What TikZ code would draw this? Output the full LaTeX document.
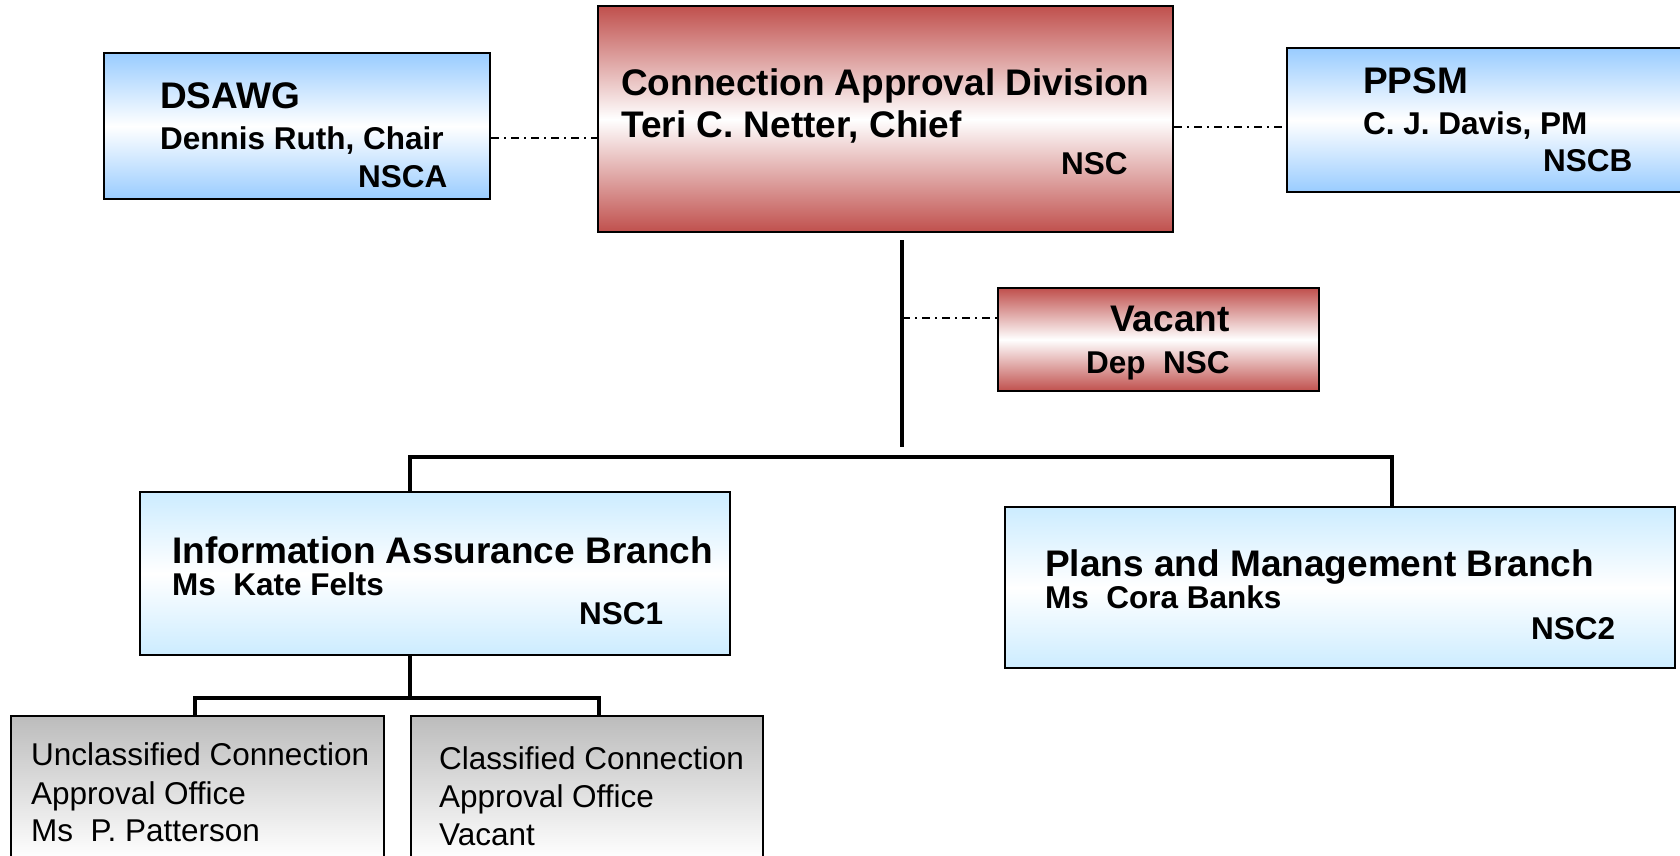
\documentclass[tikz,border=0pt]{standalone}
\usepackage{fontspec}
\setmainfont{Liberation Sans}
\definecolor{cred}{RGB}{192,80,77}
\definecolor{cblue}{RGB}{153,204,255}
\definecolor{clblue}{RGB}{204,236,255}
\definecolor{cgray}{RGB}{188,188,188}
\tikzset{
  box/.style={draw=black, line width=2.2pt, inner sep=0pt, anchor=north west},
  redbox/.style={box, top color=cred, bottom color=cred, middle color=white},
  bluebox/.style={box, top color=cblue, bottom color=cblue, middle color=white},
  lbluebox/.style={box, top color=clblue, bottom color=clblue, middle color=white},
  graybox/.style={box, top color=cgray, bottom color=cgray, middle color=white},
  big/.style={anchor=base west, inner sep=0pt, font=\fontsize{37}{40}\selectfont\bfseries},
  small/.style={anchor=base west, inner sep=0pt, font=\fontsize{31.5}{36}\selectfont\bfseries},
  plain/.style={anchor=base west, inner sep=0pt, font=\fontsize{31.5}{36}\selectfont},
  conn/.style={line width=3.2pt, line join=miter},
  dd/.style={line width=1.7pt, dash pattern=on 8pt off 5pt on 2pt off 5pt},
}
\begin{document}
\begin{tikzpicture}[x=1pt,y=-1pt]
\useasboundingbox (0,0) rectangle (1680,855);
\clip (0,0) rectangle (1680,855);
\fill[white] (0,0) rectangle (1680,855);

% boxes
\node[redbox, minimum width=575pt, minimum height=226pt] (cad) at (597,5) {};
\node[bluebox, minimum width=386pt, minimum height=146pt] (dsawg) at (103,52) {};
\node[bluebox, minimum width=420pt, minimum height=144pt] (ppsm) at (1286,47) {};
\node[redbox, minimum width=321pt, minimum height=103pt] (vac) at (997,287) {};
\node[lbluebox, minimum width=590pt, minimum height=163pt] (ia) at (139,491) {};
\node[lbluebox, minimum width=670pt, minimum height=161pt] (pmb) at (1004,506) {};
\node[graybox, minimum width=373pt, minimum height=285pt] (uca) at (10,715) {};
\node[graybox, minimum width=352pt, minimum height=285pt] (cca) at (410,715) {};

% texts
\node[big] (cad1) at (621,95) {Connection Approval Division};
\node[big] (cad2) at (621,137) {Teri C. Netter, Chief};
\node[small] (cad3) at (1061,174) {NSC};

\node[big] (ds1) at (160,108) {DSAWG};
\node[small] (ds2) at (160,149) {Dennis Ruth, Chair};
\node[small] (ds3) at (358,187) {NSCA};

\node[big] (pp1) at (1363,93) {PPSM};
\node[small] (pp2) at (1363,134) {C. J. Davis, PM};
\node[small] (pp3) at (1543,171) {NSCB};

\node[big] (va1) at (1110,331) {Vacant};
\node[small] (va2) at (1086,373) {Dep\ \ NSC};

\node[big] (ia1) at (172,563) {Information Assurance Branch};
\node[small] (ia2) at (172,595) {Ms\ \ Kate Felts};
\node[small] (ia3) at (579,624) {NSC1};

\node[big] (pm1) at (1045,576) {Plans and Management Branch};
\node[small] (pm2) at (1045,608) {Ms\ \ Cora Banks};
\node[small] (pm3) at (1531,639) {NSC2};

\node[plain] (uc1) at (31,765) {Unclassified Connection};
\node[plain] (uc2) at (31,804) {Approval Office};
\node[plain] (uc3) at (31,841) {Ms\ \ P. Patterson};

\node[plain] (cc1) at (439,769) {Classified Connection};
\node[plain] (cc2) at (439,807) {Approval Office};
\node[plain] (cc3) at (439,845) {Vacant};

% connectors
\coordinate (dsy) at (0,138);
\draw[dd] (dsawg.east |- dsy) -- (cad.west |- dsy);
\coordinate (ppy) at (0,127);
\draw[dd] (cad.east |- ppy) -- (ppsm.west |- ppy);

\coordinate (vtop) at (902,240);
\coordinate (vbot) at (902,447);
\draw[line width=3.8pt] (vtop) -- (vbot);
\coordinate (vay) at (902,318);
\draw[dd] (vay) -- (vac.west |- vay);

\coordinate (hl) at (410,457);
\coordinate (hr) at (1392,457);
\draw[conn] (hl |- ia.north) -- (hl) -- (hr) -- (hr |- pmb.north);

\coordinate (sa) at (410,698);
\coordinate (sl) at (195,698);
\coordinate (sr) at (599,698);
\draw[conn] (sa |- ia.south) -- (sa);
\draw[conn] (sl |- uca.north) -- (sl) -- (sr) -- (sr |- cca.north);
\end{tikzpicture}
\end{document}
